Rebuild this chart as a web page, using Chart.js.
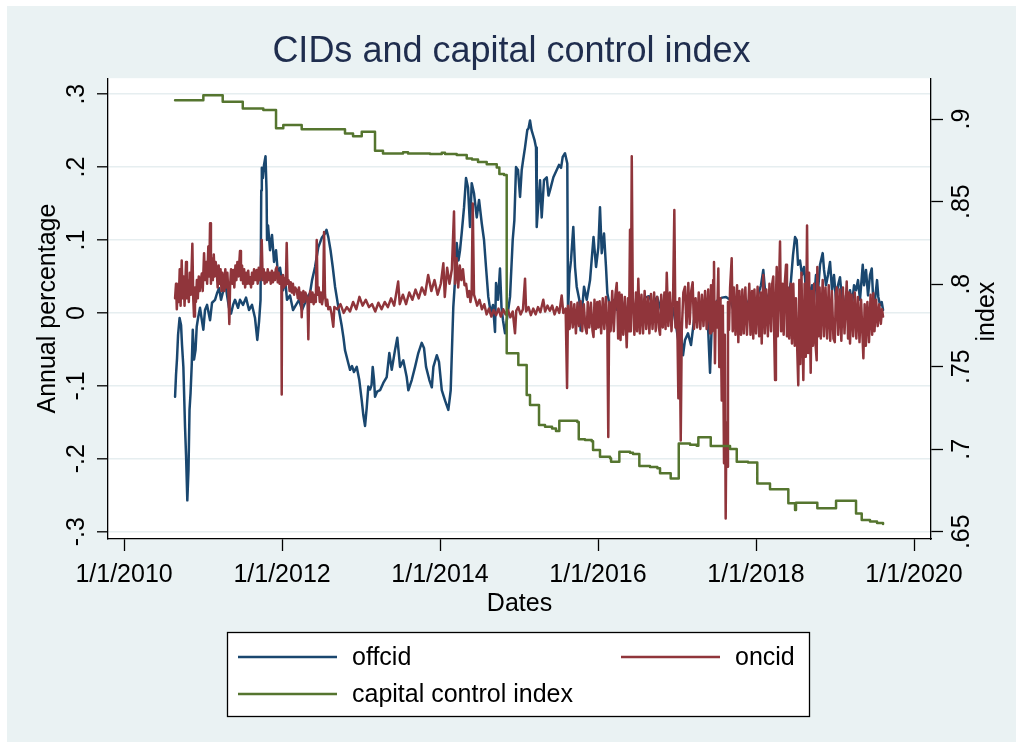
<!DOCTYPE html>
<html>
<head>
<meta charset="utf-8">
<title>CIDs and capital control index</title>
<script src="https://cdn.jsdelivr.net/npm/chart.js@4.4.1/dist/chart.umd.min.js"></script>
<style>
  html, body { margin: 0; padding: 0; background: #ffffff; overflow: hidden; }
  canvas { display: block; }
</style>
</head>
<body>
<canvas id="chart" width="1023" height="749"></canvas>
<script>
// ---- Data: dates are decimal years ----

// Offshore CNH implied deposit spread (annual percentage)
const offcid = [
  [2010.646,-0.115],[2010.658,-0.085],[2010.671,-0.062],[2010.684,-0.030],[2010.703,-0.007],[2010.722,-0.017],
  [2010.734,-0.044],[2010.751,-0.074],[2010.772,-0.156],[2010.785,-0.195],[2010.801,-0.257],[2010.816,-0.215],
  [2010.829,-0.133],[2010.842,-0.110],[2010.857,-0.071],[2010.870,-0.023],[2010.886,-0.064],[2010.905,-0.051],
  [2010.920,-0.019],[2010.937,-0.007],[2010.962,0.007],[2010.981,-0.007],[2011.004,-0.023],[2011.025,0.004],
  [2011.051,0.011],[2011.089,-0.010],[2011.114,0.014],[2011.152,0.018],[2011.177,0.027],[2011.203,0.034],
  [2011.228,0.018],[2011.253,0.029],[2011.278,0.044],[2011.304,0.024],[2011.329,0.007],[2011.354,-0.001],
  [2011.380,0.011],[2011.405,0.018],[2011.443,0.007],[2011.468,0.018],[2011.506,0.011],[2011.544,0.021],
  [2011.582,0.004],[2011.620,0.011],[2011.658,-0.007],[2011.687,-0.037],[2011.709,-0.012],[2011.728,0.018],
  [2011.737,0.168],[2011.744,0.199],[2011.757,0.185],[2011.772,0.203],[2011.791,0.215],[2011.804,0.168],
  [2011.810,0.100],[2011.823,0.120],[2011.848,0.086],[2011.873,0.107],[2011.899,0.070],[2011.924,0.086],
  [2011.949,0.052],[2011.975,0.062],[2012.013,0.031],[2012.038,0.048],[2012.063,0.018],[2012.101,0.024],
  [2012.139,0.004],[2012.177,0.011],[2012.215,0.018],[2012.253,0.004],[2012.291,0.014],[2012.329,0.023],
  [2012.354,0.027],[2012.380,0.045],[2012.418,0.063],[2012.459,0.090],[2012.503,0.103],[2012.544,0.109],
  [2012.563,0.114],[2012.586,0.104],[2012.614,0.086],[2012.642,0.063],[2012.671,0.036],[2012.713,0.008],
  [2012.756,-0.018],[2012.778,-0.034],[2012.797,-0.051],[2012.839,-0.069],[2012.861,-0.078],[2012.886,-0.073],
  [2012.911,-0.081],[2012.946,-0.074],[2012.978,-0.092],[2013.009,-0.120],[2013.029,-0.140],[2013.051,-0.155],
  [2013.072,-0.130],[2013.092,-0.101],[2013.114,-0.105],[2013.133,-0.099],[2013.148,-0.074],[2013.165,-0.092],
  [2013.177,-0.115],[2013.203,-0.108],[2013.241,-0.106],[2013.282,-0.096],[2013.325,-0.088],[2013.358,-0.055],
  [2013.389,-0.078],[2013.430,-0.051],[2013.459,-0.034],[2013.494,-0.074],[2013.535,-0.065],[2013.578,-0.088],
  [2013.599,-0.106],[2013.642,-0.092],[2013.684,-0.074],[2013.725,-0.055],[2013.768,-0.041],[2013.797,-0.048],
  [2013.823,-0.074],[2013.865,-0.092],[2013.896,-0.102],[2013.916,-0.074],[2013.959,-0.058],[2013.987,-0.067],
  [2014.022,-0.106],[2014.063,-0.120],[2014.105,-0.133],[2014.120,-0.120],[2014.135,-0.106],[2014.156,-0.033],
  [2014.168,0.008],[2014.190,0.045],[2014.211,0.096],[2014.234,0.072],[2014.253,0.086],[2014.274,0.109],
  [2014.304,0.145],[2014.329,0.185],[2014.354,0.172],[2014.380,0.118],[2014.401,0.178],[2014.430,0.164],
  [2014.465,0.131],[2014.494,0.155],[2014.528,0.123],[2014.557,0.100],[2014.582,0.063],[2014.611,0.022],
  [2014.642,0.000],[2014.671,0.011],[2014.696,-0.026],[2014.709,0.041],[2014.734,0.018],[2014.759,0.061],
  [2014.778,0.008],[2014.797,-0.010],[2014.823,-0.028],[2014.854,-0.003],[2014.886,0.022],[2014.920,0.100],
  [2014.941,0.127],[2014.962,0.200],[2014.987,0.196],[2015.013,0.159],[2015.034,0.196],[2015.051,0.209],
  [2015.076,0.227],[2015.105,0.251],[2015.120,0.253],[2015.139,0.264],[2015.158,0.251],[2015.177,0.244],
  [2015.196,0.237],[2015.215,0.227],[2015.224,0.118],[2015.241,0.145],[2015.266,0.182],[2015.287,0.131],
  [2015.316,0.182],[2015.351,0.186],[2015.373,0.161],[2015.392,0.168],[2015.435,0.186],[2015.477,0.196],
  [2015.506,0.203],[2015.532,0.199],[2015.553,0.214],[2015.582,0.219],[2015.611,0.205],[2015.620,0.000],
  [2015.639,0.054],[2015.658,0.072],[2015.687,0.118],[2015.709,0.063],[2015.730,0.036],[2015.763,0.018],
  [2015.780,-0.024],[2015.794,0.000],[2015.823,0.036],[2015.857,0.018],[2015.899,0.045],[2015.943,0.104],
  [2015.975,0.063],[2016.004,0.090],[2016.025,0.145],[2016.047,0.082],[2016.076,0.109],[2016.101,0.063],
  [2016.118,0.027],[2016.152,0.008],[2016.190,0.018],[2016.241,0.004],[2016.291,0.021],[2016.342,-0.003],
  [2016.392,0.014],[2016.443,0.001],[2016.494,0.018],[2016.544,0.007],[2016.595,0.021],[2016.646,0.023],
  [2016.696,0.011],[2016.747,0.022],[2016.797,0.004],[2016.848,0.014],[2016.899,-0.004],[2016.949,0.007],
  [2016.987,-0.017],[2017.025,-0.044],[2017.051,-0.030],[2017.076,-0.058],[2017.101,-0.037],[2017.139,-0.028],
  [2017.177,-0.044],[2017.215,-0.010],[2017.253,0.001],[2017.291,0.011],[2017.329,0.004],[2017.367,0.018],
  [2017.392,-0.017],[2017.418,-0.082],[2017.437,-0.024],[2017.468,0.011],[2017.519,0.018],[2017.570,0.021],
  [2017.620,0.022],[2017.671,0.018],[2017.722,0.001],[2017.772,0.014],[2017.823,0.007],[2017.873,0.018],
  [2017.924,0.004],[2017.975,0.014],[2018.025,0.024],[2018.063,0.038],[2018.092,0.059],[2018.114,0.031],
  [2018.152,0.018],[2018.203,0.011],[2018.253,0.021],[2018.304,0.004],[2018.354,0.018],[2018.405,0.014],
  [2018.443,0.045],[2018.468,0.079],[2018.494,0.104],[2018.515,0.100],[2018.532,0.066],[2018.557,0.072],
  [2018.582,0.052],[2018.608,0.063],[2018.633,0.031],[2018.658,0.045],[2018.684,0.024],[2018.709,0.038],
  [2018.734,0.018],[2018.759,0.052],[2018.785,0.031],[2018.810,0.066],[2018.844,0.082],[2018.861,0.059],
  [2018.886,0.038],[2018.911,0.052],[2018.937,0.070],[2018.962,0.031],[2018.987,0.052],[2019.013,0.018],
  [2019.038,0.038],[2019.063,0.049],[2019.089,0.018],[2019.114,0.004],[2019.139,0.024],[2019.165,0.018],
  [2019.190,0.031],[2019.215,0.011],[2019.241,0.038],[2019.266,0.031],[2019.291,0.045],[2019.316,0.018],
  [2019.351,0.066],[2019.367,0.038],[2019.392,0.059],[2019.418,0.024],[2019.443,0.052],[2019.465,0.061],
  [2019.481,0.024],[2019.506,0.018],[2019.532,0.045],[2019.548,0.022],[2019.570,0.011],[2019.591,0.015],
  [2019.608,0.004]
];

// Onshore CNY implied deposit spread (annual percentage)
const oncid = [
  [2010.646,0.020],[2010.658,0.040],[2010.668,0.005],[2010.680,0.035],[2010.692,0.015],[2010.705,0.060],
  [2010.716,0.010],[2010.730,0.072],[2010.742,0.020],[2010.755,0.050],[2010.766,0.010],[2010.785,0.070],
  [2010.796,0.020],[2010.808,0.045],[2010.820,0.015],[2010.832,0.055],[2010.845,0.025],[2010.865,0.095],
  [2010.876,0.020],[2010.886,-0.005],[2010.898,0.035],[2010.910,0.015],[2010.922,0.045],[2010.934,0.020],
  [2010.946,0.050],[2010.958,0.030],[2010.972,0.045],[2010.984,0.054],[2010.996,0.030],[2011.013,0.082],
  [2011.025,0.045],[2011.040,0.070],[2011.052,0.040],[2011.067,0.091],[2011.078,0.050],[2011.089,0.123],
  [2011.100,0.040],[2011.112,0.075],[2011.124,0.045],[2011.136,0.080],[2011.148,0.050],[2011.160,0.070],
  [2011.173,0.059],[2011.185,0.035],[2011.198,0.065],[2011.210,0.040],[2011.222,0.060],[2011.234,0.030],
  [2011.246,0.055],[2011.257,0.045],[2011.270,0.030],[2011.282,0.060],[2011.295,0.035],[2011.308,0.055],
  [2011.320,0.030],[2011.333,-0.015],[2011.342,0.036],[2011.355,0.060],[2011.368,0.040],[2011.384,0.059],
  [2011.396,0.035],[2011.410,0.065],[2011.422,0.045],[2011.435,0.070],[2011.448,0.050],[2011.468,0.085],
  [2011.480,0.045],[2011.494,0.065],[2011.507,0.040],[2011.520,0.060],[2011.533,0.035],[2011.546,0.055],
  [2011.559,0.040],[2011.572,0.058],[2011.584,0.040],[2011.595,0.049],[2011.608,0.035],[2011.620,0.055],
  [2011.633,0.040],[2011.646,0.060],[2011.658,0.045],[2011.670,0.055],[2011.680,0.059],[2011.692,0.040],
  [2011.705,0.062],[2011.718,0.045],[2011.730,0.058],[2011.743,0.100],[2011.755,0.045],[2011.768,0.060],
  [2011.780,0.040],[2011.793,0.055],[2011.806,0.042],[2011.819,0.060],[2011.832,0.045],[2011.845,0.055],
  [2011.858,0.040],[2011.871,0.058],[2011.884,0.042],[2011.897,0.055],[2011.910,0.045],[2011.921,0.060],
  [2011.933,0.063],[2011.946,0.042],[2011.958,0.055],[2011.970,0.040],[2011.983,0.050],[2011.992,0.038],
  [2011.996,-0.112],[2012.000,0.042],[2012.012,0.052],[2012.024,0.035],[2012.036,0.048],[2012.048,0.038],
  [2012.059,0.096],[2012.070,0.040],[2012.083,0.045],[2012.096,0.030],[2012.110,0.042],[2012.124,0.028],
  [2012.138,0.040],[2012.152,0.025],[2012.166,0.035],[2012.186,0.031],[2012.200,0.020],[2012.214,0.035],
  [2012.228,0.018],[2012.240,0.028],[2012.249,-0.006],[2012.258,0.020],[2012.270,0.030],[2012.282,0.015],
  [2012.296,0.028],[2012.313,0.022],[2012.324,0.012],[2012.333,-0.036],[2012.342,0.018],[2012.356,0.030],
  [2012.370,0.015],[2012.386,0.028],[2012.400,0.012],[2012.414,0.025],[2012.428,0.015],[2012.439,0.100],
  [2012.450,0.025],[2012.464,0.035],[2012.478,0.015],[2012.492,0.028],[2012.506,0.012],[2012.520,0.022],
  [2012.532,0.111],[2012.544,0.025],[2012.558,0.010],[2012.572,0.018],[2012.586,0.005],[2012.608,0.008],
  [2012.625,0.000],[2012.649,-0.019],[2012.662,0.008],[2012.700,0.005],[2012.740,0.012],[2012.780,0.000],
  [2012.820,0.008],[2012.860,0.002],[2012.900,0.015],[2012.940,0.005],[2012.980,0.022],[2013.020,0.010],
  [2013.060,0.018],[2013.100,0.008],[2013.140,0.012],[2013.180,0.002],[2013.220,0.014],[2013.260,0.005],
  [2013.300,0.015],[2013.340,0.008],[2013.380,0.020],[2013.420,0.010],[2013.470,0.043],[2013.490,0.012],
  [2013.530,0.025],[2013.570,0.012],[2013.610,0.028],[2013.650,0.018],[2013.690,0.032],[2013.730,0.020],
  [2013.770,0.035],[2013.810,0.025],[2013.850,0.052],[2013.890,0.030],[2013.930,0.045],[2013.970,0.025],
  [2014.010,0.040],[2014.042,0.068],[2014.060,0.022],[2014.090,0.062],[2014.120,0.040],[2014.150,0.060],
  [2014.177,0.139],[2014.190,0.040],[2014.210,0.075],[2014.230,0.035],[2014.250,0.065],[2014.270,0.045],
  [2014.290,0.060],[2014.310,0.038],[2014.330,0.040],[2014.350,0.022],[2014.370,0.030],[2014.385,0.015],
  [2014.400,0.025],[2014.414,0.150],[2014.430,0.025],[2014.450,0.018],[2014.470,0.010],[2014.500,0.018],
  [2014.530,0.005],[2014.560,0.012],[2014.590,-0.002],[2014.620,0.006],[2014.650,-0.005],[2014.680,0.004],
  [2014.710,-0.003],[2014.740,0.006],[2014.770,-0.005],[2014.800,0.005],[2014.830,-0.002],[2014.860,0.004],
  [2014.890,-0.006],[2014.920,0.002],[2014.949,-0.028],[2014.965,0.003],[2014.990,0.008],[2015.020,-0.002],
  [2015.050,0.005],[2015.076,0.047],[2015.090,0.002],[2015.120,0.008],[2015.150,-0.003],[2015.180,0.006],
  [2015.210,-0.002],[2015.240,0.008],[2015.270,0.001],[2015.307,0.018],[2015.330,0.002],[2015.360,0.010],
  [2015.390,0.003],[2015.420,0.010],[2015.450,-0.002],[2015.480,0.008],[2015.510,0.000],[2015.540,0.024],
  [2015.560,0.000],[2015.590,0.006],[2015.608,-0.103],[2015.620,0.010],[2015.640,-0.022],[2015.660,0.015],
  [2015.680,-0.020],[2015.700,0.012],[2015.720,-0.028],[2015.740,0.014],[2015.760,-0.018],[2015.780,0.016],
  [2015.800,-0.025],[2015.820,0.012],[2015.840,-0.020],[2015.857,-0.028],[2015.870,0.015],[2015.890,-0.020],
  [2015.910,0.014],[2015.930,-0.024],[2015.943,-0.033],[2015.955,0.018],[2015.975,-0.022],[2015.990,0.015],
  [2016.005,-0.020],[2016.020,0.016],[2016.040,-0.028],[2016.060,0.020],[2016.080,-0.022],[2016.100,0.022],
  [2016.118,-0.020],[2016.130,-0.170],[2016.142,0.015],[2016.160,-0.025],[2016.180,0.030],[2016.200,-0.025],
  [2016.220,0.025],[2016.237,0.041],[2016.255,-0.035],[2016.270,0.028],[2016.285,-0.037],[2016.300,0.025],
  [2016.320,-0.030],[2016.340,0.022],[2016.363,-0.047],[2016.380,0.020],[2016.392,-0.025],[2016.405,0.114],
  [2016.415,-0.025],[2016.427,0.215],[2016.440,0.020],[2016.460,-0.030],[2016.480,0.028],[2016.495,-0.025],
  [2016.510,0.047],[2016.530,-0.028],[2016.550,0.025],[2016.570,-0.028],[2016.590,0.030],[2016.610,-0.022],
  [2016.630,0.022],[2016.650,-0.028],[2016.670,0.026],[2016.690,-0.022],[2016.710,0.028],[2016.730,-0.025],
  [2016.750,0.022],[2016.770,-0.020],[2016.785,-0.030],[2016.800,0.025],[2016.820,-0.020],[2016.840,0.028],
  [2016.855,-0.022],[2016.870,0.055],[2016.890,-0.018],[2016.910,0.028],[2016.930,-0.025],[2016.950,0.020],
  [2016.966,0.141],[2016.980,-0.020],[2017.000,0.015],[2017.017,-0.117],[2017.030,0.020],[2017.047,-0.175],
  [2017.060,-0.025],[2017.080,0.028],[2017.101,0.036],[2017.120,-0.020],[2017.143,0.041],[2017.160,-0.015],
  [2017.180,0.030],[2017.198,0.042],[2017.215,-0.022],[2017.235,0.020],[2017.255,-0.020],[2017.275,0.028],
  [2017.295,-0.022],[2017.315,0.025],[2017.335,-0.018],[2017.355,0.030],[2017.375,-0.022],[2017.395,0.032],
  [2017.418,-0.028],[2017.430,0.038],[2017.445,-0.025],[2017.458,0.045],[2017.468,0.070],[2017.480,-0.069],
  [2017.492,0.015],[2017.505,-0.020],[2017.523,0.061],[2017.535,-0.074],[2017.550,0.020],[2017.566,-0.120],
  [2017.580,0.010],[2017.595,-0.206],[2017.605,-0.030],[2017.616,-0.282],[2017.625,-0.150],[2017.633,-0.211],
  [2017.645,0.015],[2017.658,-0.023],[2017.672,0.035],[2017.692,0.075],[2017.705,-0.025],[2017.720,0.035],
  [2017.740,-0.030],[2017.760,0.038],[2017.776,-0.040],[2017.790,0.030],[2017.810,-0.030],[2017.827,0.032],
  [2017.845,-0.028],[2017.865,0.035],[2017.885,-0.030],[2017.915,0.040],[2017.930,-0.030],[2017.950,0.030],
  [2017.965,-0.035],[2017.980,0.032],[2018.000,-0.028],[2018.020,0.036],[2018.040,-0.032],[2018.058,0.028],
  [2018.072,-0.042],[2018.092,0.052],[2018.110,-0.028],[2018.130,0.032],[2018.150,-0.032],[2018.170,0.040],
  [2018.190,-0.025],[2018.205,0.040],[2018.219,0.050],[2018.230,-0.030],[2018.241,-0.092],[2018.252,0.020],
  [2018.262,0.063],[2018.275,-0.032],[2018.290,0.035],[2018.304,0.098],[2018.318,-0.025],[2018.335,0.040],
  [2018.350,-0.030],[2018.365,0.042],[2018.380,0.066],[2018.392,-0.032],[2018.405,0.035],[2018.420,-0.035],
  [2018.440,0.040],[2018.455,-0.042],[2018.472,0.040],[2018.490,-0.045],[2018.505,0.020],[2018.523,-0.055],
  [2018.535,-0.099],[2018.548,0.045],[2018.560,-0.070],[2018.575,0.055],[2018.590,-0.045],[2018.599,-0.092],
  [2018.615,0.040],[2018.630,-0.060],[2018.646,0.120],[2018.660,-0.055],[2018.672,0.055],[2018.692,-0.082],
  [2018.705,0.030],[2018.720,-0.045],[2018.735,0.040],[2018.750,-0.038],[2018.768,-0.065],[2018.776,0.063],
  [2018.790,-0.032],[2018.805,0.035],[2018.820,-0.035],[2018.844,0.045],[2018.860,-0.032],[2018.880,0.035],
  [2018.900,-0.035],[2018.920,0.038],[2018.940,-0.038],[2018.960,0.030],[2018.980,-0.035],[2018.997,-0.040],
  [2019.010,0.025],[2019.022,0.035],[2019.040,-0.030],[2019.060,0.032],[2019.080,-0.038],[2019.100,0.035],
  [2019.120,-0.028],[2019.148,0.043],[2019.165,-0.035],[2019.180,0.028],[2019.190,-0.042],[2019.210,0.025],
  [2019.230,-0.032],[2019.250,0.028],[2019.270,-0.035],[2019.290,0.022],[2019.310,-0.040],[2019.330,0.018],
  [2019.359,-0.062],[2019.375,0.012],[2019.390,-0.045],[2019.410,0.015],[2019.430,-0.040],[2019.450,0.025],
  [2019.470,-0.030],[2019.485,0.027],[2019.500,-0.025],[2019.520,0.018],[2019.540,-0.018],[2019.560,0.012],
  [2019.580,-0.015],[2019.595,0.005],[2019.608,-0.005]
];

// Capital control index: value in force from each date onward
const controlIndex = [
  [2010.646,0.9115],[2011.004,0.9145],[2011.249,0.9105],[2011.503,0.9065],[2011.763,0.9055],[2011.924,0.8944],
  [2012.016,0.8964],[2012.249,0.8938],[2012.797,0.8913],[2012.899,0.8897],[2013.009,0.8923],[2013.177,0.8808],
  [2013.278,0.8792],[2013.532,0.8800],[2013.595,0.8792],[2013.873,0.8788],[2014.022,0.8796],[2014.063,0.8788],
  [2014.211,0.8782],[2014.338,0.8762],[2014.405,0.8755],[2014.481,0.8741],[2014.591,0.8727],[2014.718,0.8707],
  [2014.751,0.8667],[2014.810,0.8661],[2014.844,0.7581],[2014.991,0.7510],[2015.097,0.7328],[2015.139,0.7268],
  [2015.253,0.7146],[2015.329,0.7136],[2015.418,0.7125],[2015.468,0.7110],[2015.510,0.7172],[2015.738,0.7165],
  [2015.756,0.7060],[2015.835,0.7056],[2015.920,0.7049],[2015.937,0.6995],[2016.025,0.6954],[2016.152,0.6946],
  [2016.165,0.6924],[2016.270,0.6985],[2016.405,0.6979],[2016.443,0.6971],[2016.523,0.6898],[2016.658,0.6892],
  [2016.751,0.6884],[2016.785,0.6854],[2016.920,0.6823],[2017.022,0.7035],[2017.165,0.7027],[2017.249,0.7021],
  [2017.270,0.7072],[2017.427,0.7019],[2017.671,0.7001],[2017.756,0.6924],[2017.899,0.6919],[2018.016,0.6793],
  [2018.177,0.6757],[2018.409,0.6672],[2018.494,0.6631],[2018.506,0.6676],[2018.776,0.6642],[2019.013,0.6688],
  [2019.266,0.6611],[2019.338,0.6571],[2019.443,0.6562],[2019.532,0.6553],[2019.608,0.6547]
];

// Axis ticks and their labels
const xTicks = [2010, 2012, 2014, 2016, 2018, 2020];
const xTickLabels = ['1/1/2010', '1/1/2012', '1/1/2014', '1/1/2016', '1/1/2018', '1/1/2020'];
const leftTicks = [-0.3, -0.2, -0.1, 0, 0.1, 0.2, 0.3];
const leftTickLabels = ['-.3', '-.2', '-.1', '0', '.1', '.2', '.3'];
const rightTicks = [0.65, 0.7, 0.75, 0.8, 0.85, 0.9];
const rightTickLabels = ['.65', '.7', '.75', '.8', '.85', '.9'];

const seriesNames = ['offcid', 'oncid', 'capital control index'];
const seriesColors = ['#1a476f', '#90353b', '#55752f'];

// ---- Styling ----
const FONT = "'Liberation Sans', Arial, Helvetica, sans-serif";
const LABEL_SIZE = 25;
const PAGE_BG = '#eaf2f3';
const GRID = '#e6eef0';
const SERIES_WIDTH = 2.5;

Chart.defaults.font.family = FONT;
Chart.defaults.color = '#000';

const toPoints = rows => rows.map(r => ({ x: r[0], y: r[1] }));

// Page backdrop: white margin, tinted graph region, white plot region
const backdrop = {
  id: 'backdrop',
  beforeDraw(chart) {
    const { ctx, chartArea: a } = chart;
    ctx.save();
    ctx.fillStyle = '#ffffff';
    ctx.fillRect(0, 0, chart.width, chart.height);
    ctx.fillStyle = PAGE_BG;
    ctx.fillRect(7, 6, chart.width - 14, chart.height - 13);
    ctx.fillStyle = '#ffffff';
    ctx.fillRect(a.left, a.top, a.right - a.left, a.bottom - a.top);
    ctx.restore();
  }
};

// Right-axis title, reading bottom to top
const rightTitle = {
  id: 'rightTitle',
  afterDraw(chart) {
    const { ctx, chartArea: a } = chart;
    ctx.save();
    ctx.translate(987, (a.top + a.bottom) / 2 + 3);
    ctx.rotate(-Math.PI / 2);
    ctx.font = `${LABEL_SIZE}px ${FONT}`;
    ctx.fillStyle = '#000';
    ctx.textAlign = 'center';
    ctx.textBaseline = 'middle';
    ctx.fillText('index', 0, 0);
    ctx.restore();
  }
};

// Boxed two-column legend below the plot
const boxedLegend = {
  id: 'boxedLegend',
  afterDraw(chart) {
    const { ctx } = chart;
    const box = { x: 227, y: 632, w: 582, h: 84 };
    const slots = [
      { lineX: 238, textX: 352, y: 657 },
      { lineX: 621, textX: 735, y: 657 },
      { lineX: 238, textX: 352, y: 694 }
    ];
    ctx.save();
    ctx.fillStyle = '#ffffff';
    ctx.fillRect(box.x, box.y, box.w, box.h);
    ctx.strokeStyle = '#000';
    ctx.lineWidth = 1.3;
    ctx.strokeRect(box.x + 0.5, box.y + 0.5, box.w, box.h);
    ctx.font = `${LABEL_SIZE}px ${FONT}`;
    ctx.textAlign = 'left';
    ctx.textBaseline = 'middle';
    chart.data.datasets.forEach((ds, i) => {
      const s = slots[i];
      ctx.strokeStyle = ds.borderColor;
      ctx.lineWidth = SERIES_WIDTH;
      ctx.beginPath();
      ctx.moveTo(s.lineX, s.y);
      ctx.lineTo(s.lineX + 99, s.y);
      ctx.stroke();
      ctx.fillStyle = '#000';
      ctx.fillText(ds.label, s.textX, s.y + 1);
    });
    ctx.restore();
  }
};

const axisLine = { display: true, color: '#000', width: 1.3 };

new Chart(document.getElementById('chart'), {
  type: 'line',
  data: {
    datasets: [
      { label: seriesNames[0], data: toPoints(offcid), borderColor: seriesColors[0], yAxisID: 'y', order: 3 },
      { label: seriesNames[1], data: toPoints(oncid), borderColor: seriesColors[1], yAxisID: 'y', order: 2 },
      { label: seriesNames[2], data: toPoints(controlIndex), borderColor: seriesColors[2], yAxisID: 'y2',
        order: 1, stepped: true }
    ]
  },
  options: {
    responsive: false,
    animation: false,
    devicePixelRatio: 1,
    parsing: false,
    events: [],
    layout: { padding: 0 },
    elements: {
      point: { radius: 0 },
      line: { borderWidth: SERIES_WIDTH, tension: 0, borderJoinStyle: 'round', borderCapStyle: 'round', fill: false }
    },
    plugins: {
      legend: { display: false },
      tooltip: { enabled: false },
      title: {
        display: true,
        text: 'CIDs and capital control index',
        color: '#1f2d4e',
        font: { size: 36, weight: 'normal', family: FONT, lineHeight: 1.2 },
        padding: { top: 30, bottom: 5 }
      }
    },
    scales: {
      x: {
        type: 'linear',
        min: 2009.797,
        max: 2020.215,
        afterBuildTicks: s => { s.ticks = xTicks.map(v => ({ value: v })); },
        afterFit: s => { s.height = 210; },
        ticks: {
          autoSkip: false, maxRotation: 0, minRotation: 0, padding: 9,
          font: { size: LABEL_SIZE },
          callback: (v, i) => xTickLabels[i]
        },
        grid: { drawOnChartArea: false, drawTicks: true, tickLength: 12, tickColor: '#000', tickWidth: 1.3 },
        border: axisLine,
        title: { display: true, text: 'Dates', font: { size: LABEL_SIZE }, padding: { top: 0, bottom: 130 } }
      },
      y: {
        type: 'linear',
        position: 'left',
        min: -0.310,
        max: 0.3219,
        afterBuildTicks: s => { s.ticks = leftTicks.map(v => ({ value: v })); },
        afterFit: s => { s.width = 108; },
        ticks: {
          autoSkip: false, minRotation: 90, maxRotation: 90, crossAlign: 'center', padding: 5,
          font: { size: LABEL_SIZE },
          callback: (v, i) => leftTickLabels[i]
        },
        grid: { drawOnChartArea: true, color: GRID, lineWidth: 1.6, drawTicks: true,
                tickLength: 11, tickColor: '#000', tickWidth: 1.3 },
        border: axisLine,
        title: { display: true, text: 'Annual percentage', font: { size: LABEL_SIZE }, padding: { top: 33, bottom: 0 } }
      },
      y2: {
        type: 'linear',
        position: 'right',
        min: 0.6456,
        max: 0.9248,
        afterBuildTicks: s => { s.ticks = rightTicks.map(v => ({ value: v })); },
        afterFit: s => { s.width = 92; },
        ticks: {
          autoSkip: false, minRotation: 90, maxRotation: 90, crossAlign: 'center', padding: 2,
          font: { size: LABEL_SIZE },
          callback: (v, i) => rightTickLabels[i]
        },
        grid: { drawOnChartArea: false, drawTicks: true, tickLength: 12, tickColor: '#000', tickWidth: 1.3 },
        border: axisLine
      }
    }
  },
  plugins: [backdrop, rightTitle, boxedLegend]
});
</script>
</body>
</html>
